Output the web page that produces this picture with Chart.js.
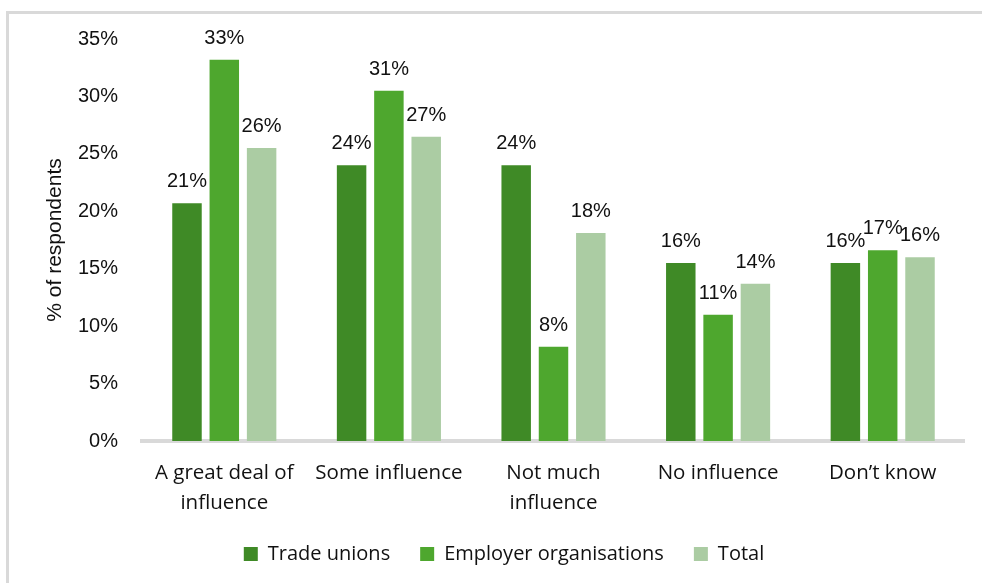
<!DOCTYPE html>
<html>
<head>
<meta charset="utf-8">
<script src="https://cdn.jsdelivr.net/npm/chart.js@4.4.1/dist/chart.umd.min.js"></script>
<style>
    html, body { margin: 0; padding: 0; background: #fff; overflow: hidden; }
    #frame {
        position: absolute; left: 6px; top: 11px; width: 1100px; height: 700px;
        border-top: 3px solid #d9d9d9; border-left: 3px solid #d9d9d9;
    }
    #influenceChart { position: absolute; left: 0; top: 0; }
</style>
</head>
<body>
<div id="frame"></div>
<canvas id="influenceChart" width="965" height="574"></canvas>
<script>
var categories = [['A great deal of', 'influence'], 'Some influence', ['Not much', 'influence'], 'No influence', 'Don\u2019t know'];
var tradeUnions = [20.7, 24.0, 24.0, 15.5, 15.5];
var employerOrgs = [33.2, 30.5, 8.2, 11.0, 16.6];
var total = [25.5, 26.5, 18.1, 13.7, 16.0];
var yTicks = [0, 5, 10, 15, 20, 25, 30, 35];

var numFont = 'Liberation Sans, Arial, sans-serif';
var textFont = 'Open Sans, sans-serif';

// value labels above each bar
var barLabels = {
    id: 'barLabels',
    afterDatasetsDraw: function (chart) {
        var ctx = chart.ctx;
        ctx.save();
        ctx.font = '20px ' + numFont;
        ctx.fillStyle = '#111';
        ctx.textAlign = 'center';
        ctx.textBaseline = 'alphabetic';
        chart.data.datasets.forEach(function (ds, i) {
            chart.getDatasetMeta(i).data.forEach(function (bar, j) {
                ctx.fillText(Math.round(ds.data[j]) + '%', bar.x, bar.y - 16);
            });
        });
        ctx.restore();
    }
};

var ctx = document.getElementById('influenceChart').getContext('2d');

new Chart(ctx, {
    type: 'bar',
    data: {
        labels: categories,
        datasets: [{
            label: 'Trade unions',
            data: tradeUnions,
            backgroundColor: '#3f8a26'
        }, {
            label: 'Employer organisations',
            data: employerOrgs,
            backgroundColor: '#4ea72e'
        }, {
            label: 'Total',
            data: total,
            backgroundColor: '#abcca3'
        }]
    },
    options: {
        responsive: false,
        animation: false,
        categoryPercentage: 0.68,
        barPercentage: 0.79,
        layout: { padding: { top: 39, left: 43, right: 0, bottom: 0 } },
        plugins: {
            tooltip: { enabled: false },
            legend: {
                position: 'bottom',
                labels: {
                    boxWidth: 14,
                    boxHeight: 14,
                    padding: 30,
                    color: '#111',
                    font: { family: textFont, size: 20 }
                }
            }
        },
        scales: {
            x: {
                z: 1,
                grid: { display: false },
                border: { display: true, color: '#d9d9d9', width: 4 },
                ticks: {
                    color: '#111',
                    padding: 9,
                    maxRotation: 0,
                    autoSkip: false,
                    font: { family: textFont, size: 20.5, lineHeight: 1.47 }
                },
                afterFit: function (scale) { scale.height = 73; }
            },
            y: {
                min: 0,
                max: 35,
                grid: { display: false },
                border: { display: false },
                afterBuildTicks: function (scale) {
                    scale.ticks = yTicks.map(function (v) { return { value: v }; });
                },
                ticks: {
                    color: '#111',
                    padding: 16,
                    font: { family: numFont, size: 20 },
                    callback: function (v) { return v + '%'; }
                },
                title: {
                    display: true,
                    text: '% of respondents',
                    color: '#111',
                    padding: { top: 0, bottom: 0 },
                    font: { family: numFont, size: 21 }
                },
                afterFit: function (scale) { scale.width = 99; }
            }
        }
    },
    plugins: [barLabels]
});
</script>
</body>
</html>
